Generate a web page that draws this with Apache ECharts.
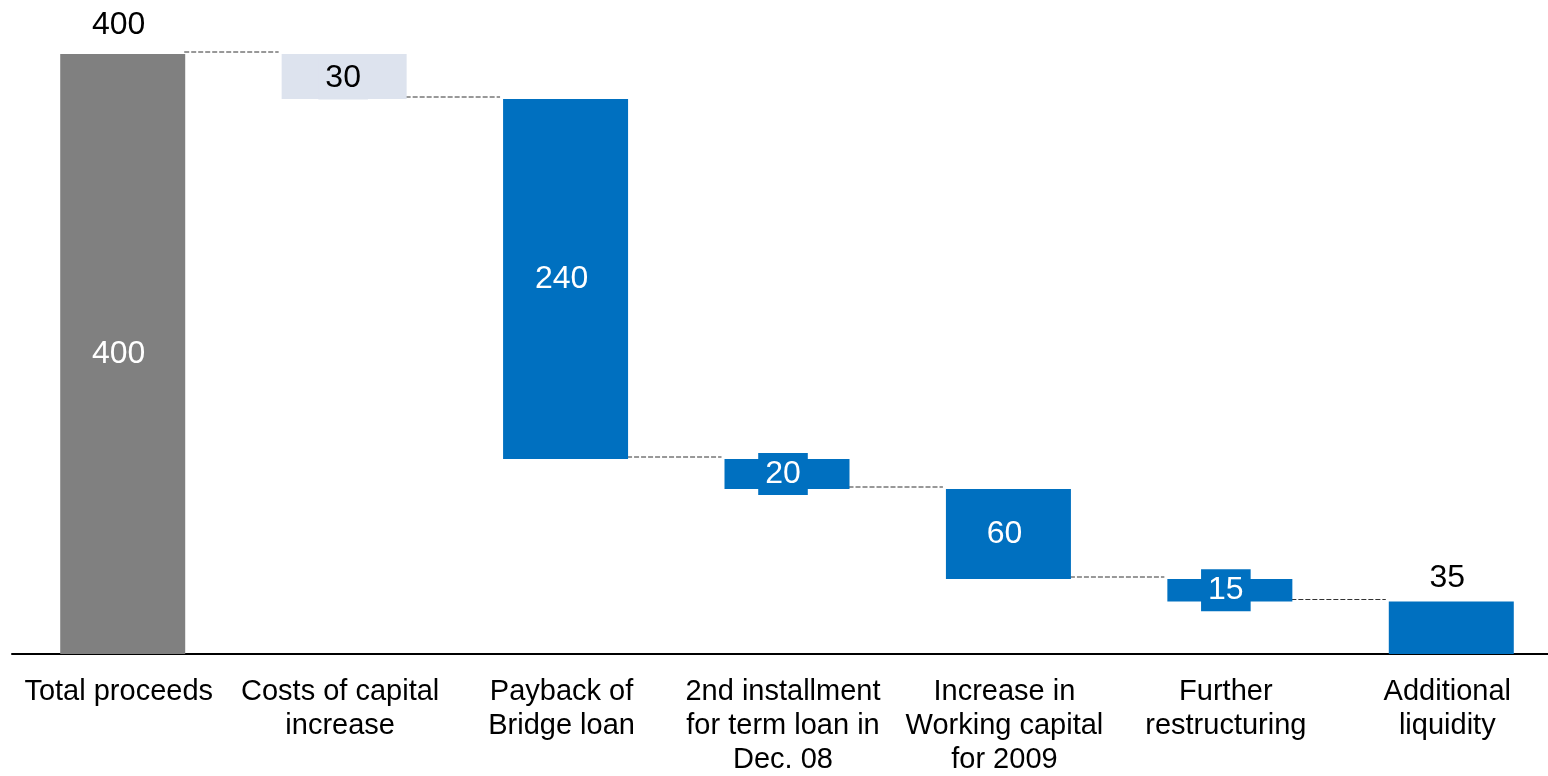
<!DOCTYPE html>
<html>
<head>
<meta charset="utf-8">
<script src="https://cdn.jsdelivr.net/npm/echarts@6/dist/echarts.min.js"></script>
<style>
html,body{margin:0;padding:0;background:#fff;}
#chart{width:1548px;height:776px;}
</style>
</head>
<body>
<div id="chart"></div>
<script>
// ---- data ----
const categories = [
  'Total proceeds',
  'Costs of capital\nincrease',
  'Payback of\nBridge loan',
  '2nd installment\nfor term loan in\nDec. 08',
  'Increase in\nWorking capital\nfor 2009',
  'Further\nrestructuring',
  'Additional\nliquidity'
];
const values = [400, 30, 240, 20, 60, 15, 35];
// 'total' bars start from zero; 'step' bars are deductions from the running level
const kinds = ['total', 'step', 'step', 'step', 'step', 'step', 'total'];

// ---- derived ----
const bases = [];
let running = 0;
values.forEach((v, i) => {
  if (kinds[i] === 'total') {
    bases.push(0);
    running = v;
  } else {
    running -= v;
    bases.push(running);
  }
});
const connectorData = [];
for (let i = 0; i < values.length - 1; i++) {
  const lvl = kinds[i] === 'total' ? values[i] : bases[i];
  connectorData.push([i, lvl]);
}
const topLabelData = [];
values.forEach((v, i) => { if (kinds[i] === 'total') topLabelData.push([i, v]); });

// ---- styles ----
const BLUE = '#0070C0';
const barColors = ['#808080', '#DDE3EE', BLUE, BLUE, BLUE, BLUE, BLUE];
const BAR_W = 125;
const FONT = '"Liberation Sans", Arial, sans-serif';

const valueData = values.map((v, i) => {
  const item = { value: v, itemStyle: { color: barColors[i] } };
  if (i === values.length - 1) {
    item.label = { show: false };
  } else if (i === 1) {
    item.label = { color: '#000', backgroundColor: barColors[i], offset: [-1, 2] };
  } else {
    item.label = { backgroundColor: barColors[i] };
  }
  return item;
});

const chart = echarts.init(document.getElementById('chart'));
chart.setOption({
  animation: false,
  grid: { left: 12, right: -14, top: 54, bottom: 122, outerBoundsMode: 'none', containLabel: false },
  xAxis: {
    type: 'category',
    data: categories,
    axisLine: { lineStyle: { color: '#000', width: 2 } },
    axisTick: { show: false },
    axisLabel: {
      interval: 0,
      color: '#000',
      fontFamily: FONT,
      fontSize: 29,
      lineHeight: 34,
      margin: 21,
      padding: [0, 8, 0, 0]
    }
  },
  yAxis: {
    type: 'value',
    min: 0,
    max: 400,
    show: false,
    splitLine: { show: false }
  },
  series: [
    {
      name: 'base',
      type: 'bar',
      stack: 'w',
      barWidth: BAR_W,
      itemStyle: { color: 'transparent' },
      emphasis: { disabled: true },
      data: bases
    },
    {
      name: 'value',
      type: 'bar',
      stack: 'w',
      barWidth: BAR_W,
      label: {
        show: true,
        position: 'inside',
        color: '#fff',
        fontFamily: FONT,
        fontSize: 32,
        lineHeight: 36,
        padding: [3, 7],
        offset: [-4, 0]
      },
      data: valueData
    },
    {
      name: 'connectors',
      type: 'custom',
      coordinateSystem: 'cartesian2d',
      encode: { x: 0, y: 1 },
      silent: true,
      z: 1,
      renderItem: function (params, api) {
        const p = api.coord([api.value(0), api.value(1)]);
        const band = api.size([1, 0])[0];
        const y = p[1] - 2;
        return {
          type: 'line',
          shape: { x1: p[0] + BAR_W / 2 - 1, y1: y, x2: p[0] + band - BAR_W / 2 - 3, y2: y },
          style: { stroke: '#333', lineWidth: 1, lineDash: [5, 2] }
        };
      },
      data: connectorData
    },
    {
      name: 'totals',
      type: 'custom',
      coordinateSystem: 'cartesian2d',
      encode: { x: 0, y: 1 },
      silent: true,
      renderItem: function (params, api) {
        const idx = api.value(0);
        const p = api.coord([idx, api.value(1)]);
        const gap = idx === 0 ? 29 : 23;
        return {
          type: 'text',
          x: p[0] - 4,
          y: p[1] - gap,
          style: {
            text: String(api.value(1)),
            fill: '#000',
            font: '32px ' + FONT,
            align: 'center',
            verticalAlign: 'middle'
          }
        };
      },
      data: topLabelData
    }
  ]
});
</script>
</body>
</html>
